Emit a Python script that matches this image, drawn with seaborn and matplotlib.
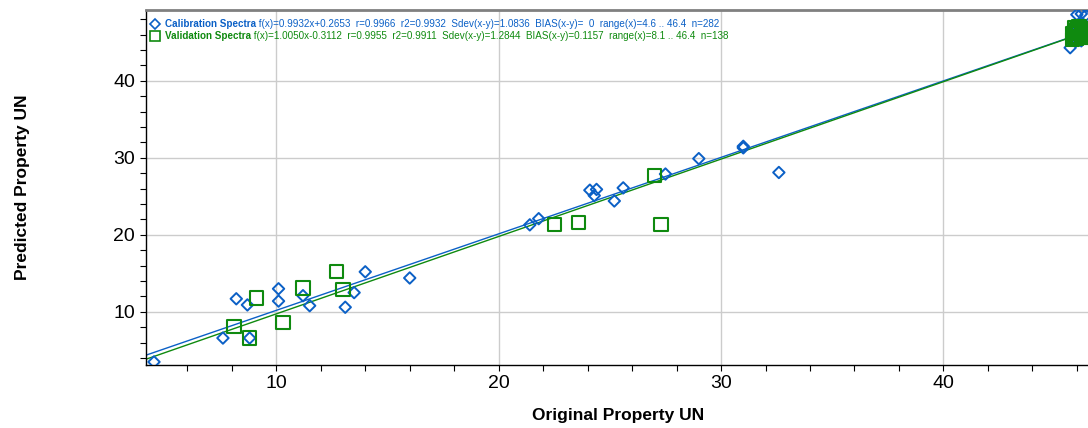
import numpy as np
import pandas as pd
import matplotlib
matplotlib.use("Agg")
import matplotlib.pyplot as plt
from matplotlib.lines import Line2D
from matplotlib.ticker import MultipleLocator
import seaborn as sns

# Data
cal_x = [4.5, 7.6, 8.2, 8.7, 8.8, 10.1, 10.1, 11.2, 11.5, 13.1, 13.5, 14.0, 16.0,
         21.4, 21.8, 24.1, 24.3, 24.4, 25.2, 25.6, 27.5, 29.0, 31.0, 31.0, 32.6,
         45.7, 46.0, 46.2, 46.4, 45.9, 46.1, 46.3, 45.8, 46.0, 46.2, 46.4]
cal_y = [3.5, 6.6, 11.7, 10.9, 6.6, 13.0, 11.4, 12.1, 10.8, 10.6, 12.5, 15.2, 14.4,
         21.3, 22.1, 25.8, 25.1, 25.9, 24.4, 26.1, 27.9, 29.9, 31.5, 31.3, 28.1,
         44.3, 48.6, 48.7, 48.5, 45.6, 46.0, 46.4, 46.8, 47.2, 45.2, 46.6]

val_x = [8.1, 8.8, 9.1, 10.3, 11.2, 12.7, 13.0, 22.5, 23.6, 27.0, 27.3,
         45.8, 45.9, 46.0, 46.1, 46.2, 46.3, 45.8, 45.9, 46.0, 46.1, 46.2, 46.3,
         45.9, 46.0, 46.1, 46.2, 46.3, 46.4]
val_y = [8.1, 6.6, 11.8, 8.6, 13.1, 15.2, 12.9, 21.3, 21.6, 27.7, 21.3,
         45.4, 45.6, 45.5, 45.8, 45.6, 45.9, 46.2, 46.4, 46.1, 46.6, 46.3, 46.5,
         46.9, 46.7, 47.0, 46.8, 46.0, 45.7]

series = ["Calibration Spectra", "Validation Spectra"]
slopes = [0.9932, 1.0050]
intercepts = [0.2653, -0.3112]
stats = [
    " f(x)=0.9932x+0.2653  r=0.9966  r2=0.9932  Sdev(x-y)=1.0836  BIAS(x-y)=  0  range(x)=4.6 .. 46.4  n=282",
    " f(x)=1.0050x-0.3112  r=0.9955  r2=0.9911  Sdev(x-y)=1.2844  BIAS(x-y)=0.1157  range(x)=8.1 .. 46.4  n=138",
]

blue = "#0b60c6"
green = "#0f8a0f"

sns.set_style("ticks")
plt.rcParams["font.family"] = ["Liberation Sans", "DejaVu Sans"]

fig = plt.figure(figsize=(10.88, 4.28), dpi=100)
ax = fig.add_axes([146 / 1088, 63 / 428, 1 - 146 / 1088 + 0.002, (365 - 10) / 428])

for m, b, c in zip(slopes, intercepts, [blue, green]):
    ax.axline((0, b), slope=m, color=c, lw=1.0, zorder=2)

cal = pd.DataFrame({"x": cal_x, "y": cal_y})
val = pd.DataFrame({"x": val_x, "y": val_y})
sns.scatterplot(data=cal, x="x", y="y", marker="D", s=34, facecolor="none",
                edgecolor=blue, linewidth=1.4, ax=ax, zorder=3)
sns.scatterplot(data=val, x="x", y="y", marker="s", s=90, facecolor="none",
                edgecolor=green, linewidth=1.5, ax=ax, zorder=4)

ax.set_xlim(4.14, 46.6)
ax.set_ylim(3.1, 49.2)
ax.xaxis.set_major_locator(MultipleLocator(10))
ax.xaxis.set_minor_locator(MultipleLocator(2))
ax.yaxis.set_major_locator(MultipleLocator(10))
ax.yaxis.set_minor_locator(MultipleLocator(2))
ax.grid(True, which="major", color="#cccccc", lw=1.0, zorder=0)
ax.set_axisbelow(True)
ax.tick_params(which="both", direction="out", color="black", width=0.8,
               labelcolor="black")
ax.tick_params(axis="x", which="both", length=4)
ax.tick_params(axis="y", which="both", length=4.5)
ax.tick_params(labelsize=14)

for s in ["left", "bottom"]:
    ax.spines[s].set_color("black")
    ax.spines[s].set_linewidth(1.0)
ax.spines["top"].set_color("#808080")
ax.spines["top"].set_linewidth(2)
ax.spines["right"].set_visible(False)

ax.set_xlabel("Original Property UN", fontsize=12.5, fontweight="bold",
              labelpad=11, color="black")
ax.set_ylabel("Predicted Property UN", fontsize=12.5, fontweight="bold",
              labelpad=60, color="black")

handles = [
    Line2D([], [], ls="none", marker="D", ms=5, mfc="none", mec=blue, mew=1.2),
    Line2D([], [], ls="none", marker="s", ms=7, mfc="none", mec=green, mew=1.2),
]
leg = ax.legend(handles, series, loc="upper left", bbox_to_anchor=(0.0, 0.985),
                frameon=False, handlelength=1.0, handletextpad=0.5,
                labelspacing=0.2, borderpad=0.2, borderaxespad=0.2,
                prop={"size": 7.1, "weight": "bold"})
for t, c, st in zip(leg.get_texts(), [blue, green], stats):
    t.set_color(c)
    ax.annotate(st, xy=(1, 0), xycoords=t, va="bottom", ha="left", color=c,
                fontsize=7.1, zorder=10)

fig.savefig("out.png", dpi=100)
